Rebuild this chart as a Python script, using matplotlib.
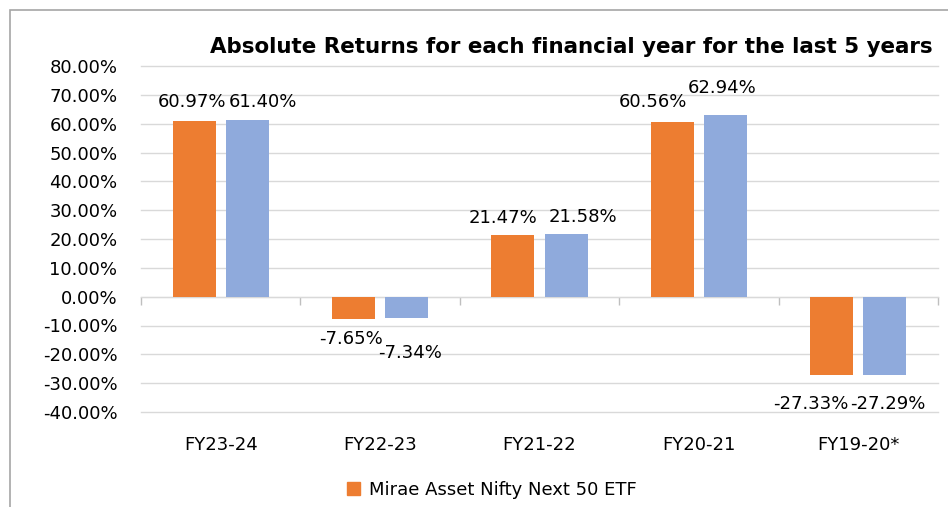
import matplotlib.pyplot as plt
from matplotlib.patches import Patch, Rectangle

# data
years = ['FY23-24', 'FY22-23', 'FY21-22', 'FY20-21', 'FY19-20*']
etf = [60.97, -7.65, 21.47, 60.56, -27.33]
bench = [61.40, -7.34, 21.58, 62.94, -27.29]
yticks = [-40, -30, -20, -10, 0, 10, 20, 30, 40, 50, 60, 70, 80]

# label nudges in pixels (dx, dy), excel moves some of them around
etf_off = [(-2, 19), (-2, -20), (-10, 17), (-19, 20), (-21, -29)]
bench_off = [(16, 18), (3, -35), (17, 17), (-3, 27), (3, -29)]

plt.rcParams['font.family'] = ['DejaVu Sans']

fig = plt.figure(figsize=(9.48, 5.07), dpi=100)
ax = fig.add_axes([141/948, 1-412/507, (938-141)/948, (412-66)/507])

x = list(range(len(years)))
w = 0.27
off = 0.167
b1 = ax.bar([i-off for i in x], etf, w, color='#ED7D31', zorder=3)
b2 = ax.bar([i+off for i in x], bench, w, color='#8FAADC', zorder=3)

for bars, vals, offs in [(b1, etf, etf_off), (b2, bench, bench_off)]:
    for r, v, (dx, dy) in zip(bars, vals, offs):
        ax.annotate('%.2f%%' % v, (r.get_x()+r.get_width()/2, v),
                    xytext=(dx, dy), textcoords='offset pixels',
                    ha='center', va='center', fontsize=13, color='#000000', zorder=5)

ax.set_xlim(-0.5, 4.5)
ax.set_ylim(-40, 80)
ax.set_yticks(yticks)
ax.set_yticklabels(['%.2f%%' % t for t in yticks], fontsize=13)
ax.tick_params(axis='y', length=0, pad=17)
ax.set_xticks(x)
ax.set_xticklabels(years, fontsize=13)
ax.tick_params(axis='x', length=0, pad=17)
ax.grid(axis='y', color='#D9D9D9', lw=1, zorder=0)
for l in ax.get_ygridlines():
    l.set_clip_on(False)
for s in ax.spines.values():
    s.set_visible(False)

# zero axis line with category ticks
sec = ax.secondary_xaxis(40/120)
sec.set_xticks([i-0.5 for i in range(len(years)+1)])
sec.set_xticklabels([])
sec.tick_params(axis='x', direction='out', length=6, color='#BFBFBF', width=1)
sec.spines['bottom'].set_color('#BFBFBF')
sec.spines['bottom'].set_zorder(4)

fig.text(571/948, 1-47/507, 'Absolute Returns for each financial year for the last 5 years',
         ha='center', va='center', fontsize=15.4, fontweight='bold')

fig.legend(handles=[Patch(color='#ED7D31', label='Mirae Asset Nifty Next 50 ETF')],
           loc='center', bbox_to_anchor=(492/948, 1-490/507), frameon=False,
           fontsize=13, handlelength=0.7, handleheight=0.7, handletextpad=0.5)

# chart border (cropped on right and bottom)
fig.patches.append(Rectangle((10/948, -0.1), 1.2, 1.1-10/507, transform=fig.transFigure,
                             fill=False, edgecolor='#A6A6A6', lw=1.2))

plt.savefig('out.png', dpi=100)
